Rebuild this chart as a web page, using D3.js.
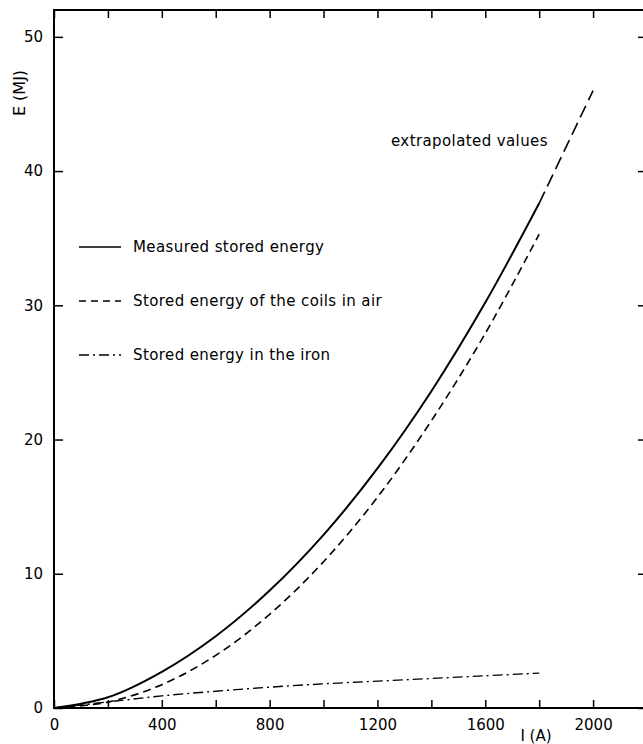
<!DOCTYPE html>
<html>
<head>
<meta charset="utf-8">
<script src="https://cdn.jsdelivr.net/npm/d3@7"></script>
<style>
  body { margin: 0; background: #fff; }
  text { font-family: "DejaVu Sans", sans-serif; fill: #000; }
</style>
</head>
<body>
<svg id="chart" width="643" height="744"></svg>
<script>
// values (current in A, energy in MJ)
const current = [0, 200, 400, 600, 800, 1000, 1200, 1400, 1600, 1800];
const measured = [0, 0.8, 2.7, 5.35, 8.75, 12.9, 17.85, 23.6, 30.2, 37.6];
const coilsAir = [0, 0.44, 1.74, 3.92, 6.98, 10.9, 15.7, 21.4, 27.9, 35.3];
const iron = [0, 0.45, 0.9, 1.25, 1.55, 1.8, 2.0, 2.2, 2.4, 2.6];
const extrapCurrent = [1800, 1900, 2000];
const extrapEnergy = [37.6, 41.8, 46.0];

const xMinorTicks = [0, 200, 400, 600, 800, 1000, 1200, 1400, 1600, 1800, 2000, 2200];
const xTickLabels = [0, 400, 800, 1200, 1600, 2000];
const yTicks = [0, 10, 20, 30, 40, 50];

const legendLabels = ["Measured stored energy", "Stored energy of the coils in air", "Stored energy in the iron"];
const legendDash = [null, "7,5", "10,4,2,4"];

const svg = d3.select("#chart");
const x = d3.scaleLinear().domain([0, 2200]).range([54, 647]);
const y = d3.scaleLinear().domain([0, 52]).range([708, 10]);

// frame
svg.append("rect")
  .attr("x", x(0)).attr("y", y(52))
  .attr("width", x(2200) - x(0)).attr("height", y(0) - y(52))
  .attr("fill", "none").attr("stroke", "#000").attr("stroke-width", 2);

// axes with inward ticks
const fmtX = d => xTickLabels.includes(d) ? d : "";
const axBottom = svg.append("g").attr("transform", `translate(0,${y(0)})`)
  .call(d3.axisBottom(x).tickValues(xMinorTicks).tickSize(-8).tickPadding(11).tickFormat(fmtX));
const axTop = svg.append("g").attr("transform", `translate(0,${y(52)})`)
  .call(d3.axisTop(x).tickValues(xMinorTicks).tickSize(-8).tickFormat(""));
const axLeft = svg.append("g").attr("transform", `translate(${x(0)},0)`)
  .call(d3.axisLeft(y).tickValues(yTicks).tickSize(-9).tickPadding(11));
const axRight = svg.append("g").attr("transform", `translate(${x(2200)},0)`)
  .call(d3.axisRight(y).tickValues(yTicks).tickSize(-9).tickFormat(""));

[axBottom, axTop, axLeft, axRight].forEach(g => {
  g.select(".domain").remove();
  g.selectAll(".tick line").attr("stroke", "#000").attr("stroke-width", 1.5);
  g.selectAll(".tick text").attr("font-size", 15).attr("font-family", "DejaVu Sans").attr("fill", "#000");
});

// axis titles
svg.append("text")
  .attr("transform", "translate(25,93) rotate(-90)")
  .attr("text-anchor", "middle").attr("font-size", 16)
  .text("E (MJ)");
svg.append("text")
  .attr("x", 536).attr("y", 741)
  .attr("text-anchor", "middle").attr("font-size", 15)
  .text("I (A)");

// curves
const line = d3.line()
  .x(d => x(d[0])).y(d => y(d[1]))
  .curve(d3.curveCatmullRom);

function draw(xs, ys, dash, width) {
  svg.append("path")
    .datum(xs.map((v, i) => [v, ys[i]]))
    .attr("d", line)
    .attr("fill", "none")
    .attr("stroke", "#000")
    .attr("stroke-width", width)
    .attr("stroke-dasharray", dash);
}

draw(current, measured, null, 2);
draw(current, coilsAir, "8,5", 1.6);
draw(current, iron, "10,4,2,4", 1.4);
draw(extrapCurrent, extrapEnergy, "13,6", 1.6);

svg.append("text")
  .attr("x", 391).attr("y", 146)
  .attr("font-size", 15).attr("letter-spacing", 0.4)
  .text("extrapolated values");

// legend
const legend = svg.append("g");
legendLabels.forEach((lbl, i) => {
  const ly = 247 + i * 54;
  legend.append("line")
    .attr("x1", 79).attr("x2", 121).attr("y1", ly).attr("y2", ly)
    .attr("stroke", "#000").attr("stroke-width", i === 0 ? 1.6 : 1.3)
    .attr("stroke-dasharray", legendDash[i]);
  legend.append("text")
    .attr("x", 133).attr("y", ly).attr("dy", "0.35em")
    .attr("font-size", 15).attr("letter-spacing", 0.4)
    .text(lbl);
});
</script>
</body>
</html>
